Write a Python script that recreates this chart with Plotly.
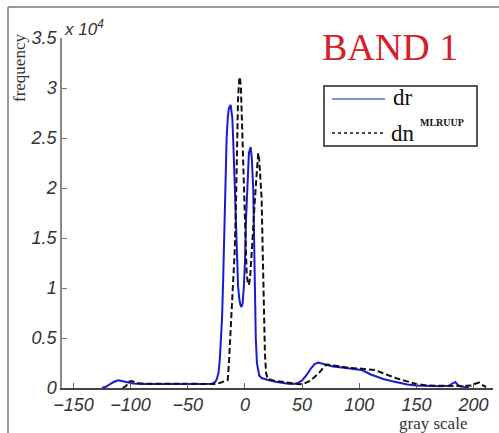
import plotly.graph_objects as go

# dr histogram (gray value, frequency)
dr_x = [-125, -121, -118, -114, -110.5, -106, -102, -98, -90, -70, -50, -35, -29, -26, -24.5, -23, -22, -21,
        -20, -19, -18, -17, -16, -15, -14, -12.5, -11, -10, -9, -8, -7, -6, -5, -4, -3, -2, -1, 0, 1, 2,
        3.5, 5, 6, 7.3, 8, 8.7, 9.5, 10.5, 11.5, 12.5, 14.5, 17, 22, 28, 33, 38, 42, 46, 50, 54, 58, 61,
        64, 68, 72, 77, 85, 92, 98, 102, 106, 110, 115, 121, 128, 135, 142, 150, 160, 170, 178, 182,
        184, 186, 188, 192, 196]
dr_y = [0, 150, 400, 650, 780, 650, 530, 450, 400, 380, 380, 400, 420, 600, 900, 1600, 2800, 4500,
        7000, 11000, 16500, 21500, 25000, 27000, 28000, 28300, 27000, 24000, 20000, 16000, 12500, 10200,
        9000, 8300, 8100, 8500, 10000, 12500, 17000, 19800, 23500, 24100, 23000, 19800, 15000, 10000,
        5000, 2500, 1600, 1250, 1000, 900, 750, 600, 500, 420, 400, 480, 750, 1300, 2000, 2400, 2550,
        2450, 2300, 2150, 2050, 1950, 1850, 1800, 1600, 1350, 1150, 900, 700, 500, 350, 250, 200, 180,
        220, 450, 600, 350, 180, 100, 80]

# dn^MLRUUP histogram
dn_x = [-107, -104, -101, -99, -96, -92, -85, -60, -40, -27, -22, -19, -17, -16, -15, -14, -13, -12,
        -11, -10, -9, -8, -7.5, -7, -6, -5, -4.4, -3.5, -2.5, -1.5, -0.5, 0.5, 1.5, 2.5, 3.5, 4.5, 5.5,
        7, 8.5, 9.6, 10.5, 11.6, 12.5, 13.5, 14.6, 15.5, 16.5, 17.5, 18.5, 20, 25, 33, 40, 48, 52, 56,
        60, 65.5, 69, 71.5, 75, 80, 86, 92, 100, 106, 110, 113.5, 117, 122, 127, 133, 139, 144, 150,
        159, 170, 180, 190, 198, 202, 205, 207, 209, 211]
dn_y = [0, 200, 650, 700, 560, 460, 420, 400, 400, 410, 500, 600, 700, 750, 800, 2500, 4500, 6500,
        8500, 10500, 13500, 17500, 21000, 25500, 29000, 30800, 31100, 30000, 26000, 22000, 18000, 14000,
        11500, 10500, 10300, 11000, 12500, 15500, 18500, 20500, 22500, 23500, 22800, 21000, 19000,
        14000, 8000, 3500, 1500, 900, 750, 630, 500, 370, 450, 650, 1000, 1600, 2100, 2350, 2300, 2200,
        2100, 2000, 1950, 1900, 1850, 1800, 1650, 1400, 1200, 950, 750, 550, 400, 250, 200, 200, 200,
        250, 450, 550, 350, 200, 100]

x_ticks = [-150, -100, -50, 0, 50, 100, 150, 200]
y_ticks = [0, 5000, 10000, 15000, 20000, 25000, 30000, 35000]
y_ticktext = ["0", "0.5", "1", "1.5", "2", "2.5", "3", "3.5"]

W, H = 499, 433
L, R, T, B = 62, 6, 38, 45
PW, PH = W - L - R, H - T - B


def px(x):
    return (x - L) / PW


def py(y):
    return (H - B - y) / PH


fig = go.Figure()
fig.add_trace(go.Scatter(x=dr_x, y=dr_y, mode="lines", name="dr",
                         line=dict(color="#1a1ad2", width=2), showlegend=False))
fig.add_trace(go.Scatter(x=dn_x, y=dn_y, mode="lines", name="dn",
                         line=dict(color="#111111", width=2, dash="6px,3px"), showlegend=False))

tickfont = dict(family="Liberation Sans", size=18, color="#333333", style="italic")
fig.update_xaxes(range=[-160, 217], tickvals=x_ticks, ticks="inside", ticklen=5,
                 tickcolor="#666666", showline=True, linecolor="#444444", linewidth=1.5,
                 showgrid=False, zeroline=False, tickfont=tickfont, automargin=False)
fig.update_yaxes(range=[0, 35000], tickvals=y_ticks, ticktext=y_ticktext, ticks="inside",
                 ticklen=5, tickcolor="#777777", showline=True, linecolor="#888888", linewidth=1.5,
                 showgrid=False, zeroline=False, tickfont=tickfont, automargin=False)

shapes = [
    # outer frame (left and top)
    dict(type="line", xref="paper", yref="paper", x0=px(8), x1=px(8), y0=py(7), y1=py(433),
         line=dict(color="#777777", width=1.5)),
    dict(type="line", xref="paper", yref="paper", x0=px(8), x1=px(499), y0=py(7), y1=py(7),
         line=dict(color="#777777", width=1.5)),
    # legend box
    dict(type="rect", xref="paper", yref="paper", x0=px(324), x1=px(477), y0=py(146), y1=py(86),
         line=dict(color="#222222", width=1.5), fillcolor="white"),
    dict(type="line", xref="paper", yref="paper", x0=px(332), x1=px(385), y0=py(99), y1=py(99),
         line=dict(color="#5a6ad8", width=1.5)),
    dict(type="line", xref="paper", yref="paper", x0=px(332), x1=px(385), y0=py(133), y1=py(133),
         line=dict(color="#111111", width=1.5, dash="dot")),
]

serif = "Liberation Serif"
annotations = [
    dict(text="x 10<sup>4</sup>", x=px(62), y=py(28), xanchor="left", yanchor="middle",
         font=dict(family="Liberation Sans", size=17, color="#333333", style="italic")),
    dict(text="frequency", x=px(19), y=py(68), textangle=-90, xanchor="center", yanchor="middle",
         font=dict(family=serif, size=17, color="#333333")),
    dict(text="gray scale", x=px(433), y=py(423), xanchor="center", yanchor="middle",
         font=dict(family=serif, size=17, color="#333333")),
    dict(text="BAND 1", x=px(390), y=py(47), xanchor="center", yanchor="middle",
         font=dict(family=serif, size=38, color="#d42029")),
    dict(text="dr", x=px(391), y=py(97), xanchor="left", yanchor="middle",
         font=dict(family=serif, size=23, color="#111111")),
    dict(text="dn", x=px(389), y=py(133), xanchor="left", yanchor="middle",
         font=dict(family=serif, size=23, color="#111111")),
    dict(text="<b>MLRUUP</b>", x=px(418), y=py(122), xanchor="left", yanchor="middle",
         font=dict(family=serif, size=10, color="#111111")),
]
for a in annotations:
    a.update(xref="paper", yref="paper", showarrow=False)

fig.update_layout(width=W, height=H, margin=dict(l=L, r=R, t=T, b=B, autoexpand=False),
                  paper_bgcolor="white", plot_bgcolor="white",
                  shapes=shapes, annotations=annotations, showlegend=False)

fig.write_html("out.html", config={"displayModeBar": False},
               post_script="document.body.style.margin='0';document.body.style.overflow='hidden';")
